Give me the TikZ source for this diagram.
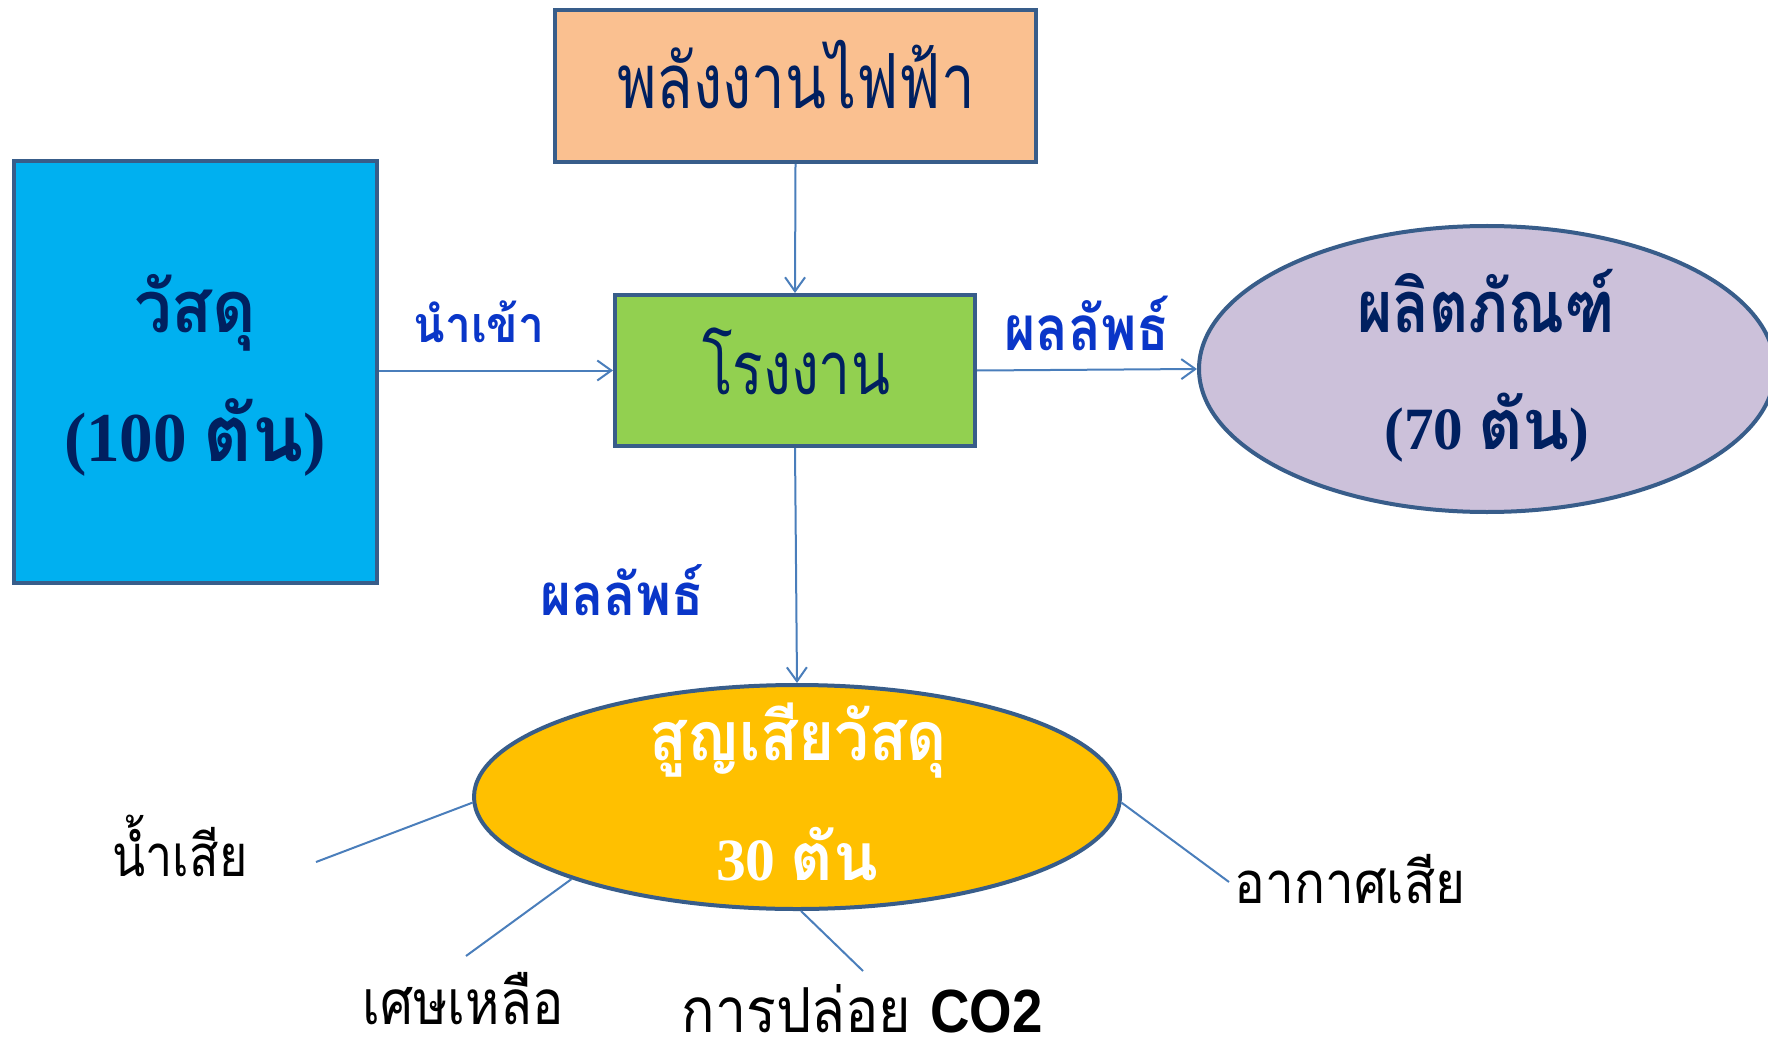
\documentclass[tikz,border=0pt]{standalone}
\usepackage{fontspec}
\usetikzlibrary{arrows.meta,shapes.geometric}
\newfontfamily\thr[Script=Thai]{Loma}
\newfontfamily\serifd{Liberation Serif}
\newfontfamily\sansd{Liberation Sans}
\newcommand\fitw[2]{\resizebox{#1}{\height}{#2}}
\newcommand\fs[1]{\fontsize{#1}{#1}\selectfont}
\definecolor{peach}{HTML}{FAC090}
\definecolor{skyb}{HTML}{00B0F0}
\definecolor{leaf}{HTML}{92D050}
\definecolor{lav}{HTML}{CCC1DA}
\definecolor{gold}{HTML}{FFC000}
\definecolor{edge}{HTML}{385D8A}
\definecolor{conn}{HTML}{4A7EBB}
\definecolor{navy}{HTML}{002060}
\definecolor{lbl}{HTML}{0A36C8}
\tikzset{
  shapebox/.style={draw=edge, line width=4pt, inner sep=0pt},
  shapeell/.style={ellipse, draw=edge, line width=4pt, inner sep=0pt},
  txt/.style={inner sep=0pt, anchor=base},
  link/.style={draw=conn, line width=2pt},
  arrowlink/.style={link, -{Straight Barb[length=14pt,width=20pt,line width=2pt]}}
}
\begin{document}
\begin{tikzpicture}[x=1pt,y=-1pt]
\useasboundingbox (0,0) rectangle (1768,1048);
% shapes
\node[shapebox, fill=peach, minimum width=481pt, minimum height=152pt] (power) at (795.5,86) {};
\node[shapebox, fill=skyb, minimum width=363pt, minimum height=422pt] (mat) at (195.5,372) {};
\node[shapebox, fill=leaf, minimum width=360pt, minimum height=151pt] (fac) at (795,370.5) {};
\node[shapeell, fill=lav, minimum width=576pt, minimum height=286pt] (prod) at (1487,369) {};
\node[shapeell, fill=gold, minimum width=646pt, minimum height=224pt] (loss) at (797,797) {};
% arrows
\draw[arrowlink] (power.south) -- (fac.north);
\draw[arrowlink] (mat.east |- fac.west) -- (fac.west);
\draw[arrowlink] (fac.east) -- (prod.west);
\draw[arrowlink] (fac.south) -- (loss.north);
% free ends
\coordinate (wwEnd) at (316,862);
\coordinate (scEnd) at (466,956);
\coordinate (coEnd) at (863,971);
\coordinate (airEnd) at (1229,882);
\draw[link] (loss.181) -- (wwEnd);
\draw[link] (loss.200) -- (scEnd);
\draw[link] (loss.272) -- (coEnd);
\draw[link] (loss.359) -- (airEnd);
% texts
\node[txt, text=navy] (tpower) at (796,109) {\fitw{358pt}{\fs{76}\thr พลังงานไฟฟ้า}};
\node[txt, text=navy] (tmat) at (195,333) {\fitw{122pt}{\fs{72}\thr\bfseries วัสดุ}};
\node[txt, text=navy] (tmatq) at (195,461) {\fitw{262pt}{\fs{70}\serifd\bfseries (100 {\thr\fs{78}ตัน})}};
\node[txt, text=lbl] (tin) at (479,342) {\fitw{131pt}{\fs{50}\thr\bfseries นำเข้า}};
\node[txt, text=navy] (tfac) at (796,394) {\fitw{188pt}{\fs{74}\thr โรงงาน}};
\node[txt, text=lbl] (tres1) at (1087,350) {\fitw{165pt}{\fs{62}\thr\bfseries ผลลัพธ์}};
\node[txt, text=navy] (tprod) at (1486,333) {\fitw{258pt}{\fs{72}\thr\bfseries ผลิตภัณฑ์}};
\node[txt, text=navy] (tprodq) at (1487,449) {\fitw{205pt}{\fs{60}\serifd\bfseries (70 {\thr\fs{70}ตัน})}};
\node[txt, text=lbl] (tres2) at (622,615) {\fitw{163pt}{\fs{58}\thr\bfseries ผลลัพธ์}};
\node[txt, text=white] (tloss) at (798,760) {\fitw{298pt}{\fs{68}\thr\bfseries สูญเสียวัสดุ}};
\node[txt, text=white] (tlossq) at (797,880) {\fitw{162pt}{\fs{60}\serifd\bfseries 30 {\thr\fs{66}ตัน}}};
\node[txt] (tww) at (180,876) {\fitw{135pt}{\fs{58}\thr น้ำเสีย}};
\node[txt] (tsc) at (463,1024) {\fitw{201pt}{\fs{62}\thr เศษเหลือ}};
\node[txt] (tco) at (862,1032) {\fitw{361pt}{\fs{62}\thr การปล่อย {\sansd\bfseries\fs{61}CO2}}};
\node[txt] (tair) at (1350,903) {\fitw{231pt}{\fs{58}\thr อากาศเสีย}};
\end{tikzpicture}
\end{document}
